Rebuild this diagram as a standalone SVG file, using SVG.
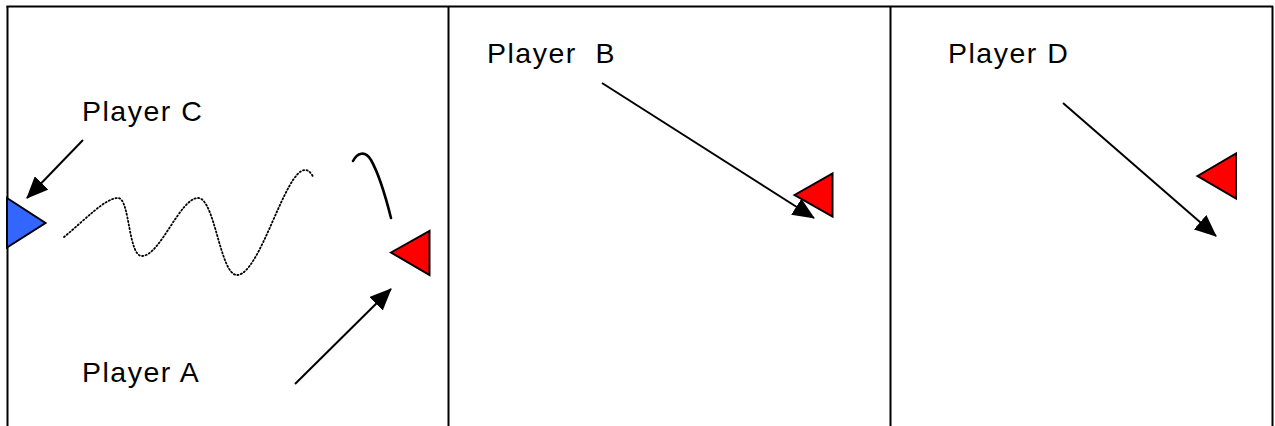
<svg xmlns="http://www.w3.org/2000/svg" width="1275" height="426" viewBox="0 0 1275 426">
<style>
.frame{stroke:#000;stroke-width:2;fill:none}
.lbl{font-family:"Liberation Sans",Arial,sans-serif;font-size:28.5px;fill:#000;letter-spacing:1.5px;white-space:pre}
.tri{stroke:#000;stroke-width:2;stroke-linejoin:miter}
.red{fill:#ff0000}
.blue{fill:#3366ff}
.arrow{stroke:#000;stroke-width:2;fill:none;marker-end:url(#ah)}
.dots{stroke:#000;stroke-width:1.8;fill:none;stroke-dasharray:1.2 2.4;stroke-linecap:round}
.curve{stroke:#000;stroke-width:2.6;fill:none;stroke-linecap:round}
</style>
<defs>
<marker id="ah" markerUnits="userSpaceOnUse" markerWidth="22" markerHeight="19" refX="21" refY="9.5" orient="auto">
<path d="M0,0 L22,9.5 L0,19 z" fill="#000"/>
</marker>
</defs>
<rect width="1275" height="426" fill="#fff"/>
<g id="frame">
<line class="frame" x1="6.5" y1="6.5" x2="1273" y2="6.5"/>
<line class="frame" x1="7.5" y1="6" x2="7.5" y2="426"/>
<line class="frame" x1="448.5" y1="6" x2="448.5" y2="426"/>
<line class="frame" x1="890.5" y1="6" x2="890.5" y2="426"/>
<line class="frame" x1="1272.5" y1="6" x2="1272.5" y2="426"/>
</g>
<g id="connectors">
<line class="arrow" x1="83" y1="140" x2="27" y2="198"/>
<line class="arrow" x1="295" y1="384" x2="391" y2="289"/>
<line class="arrow" x1="602" y1="83" x2="814" y2="218"/>
<line class="arrow" x1="1063" y1="103" x2="1216" y2="236"/>
<path class="dots" d="M64,237 C85,220 105,198 118,198 C130,198 128,256 142,256 C160,256 180,198 198,198 C215,198 220,275 237,275 C260,275 285,170 305,170 C309,170 312,174 313,177"/>
<path class="curve" d="M353,161 C357,153 365,150 371,160 C380,176 386,198 391,218"/>
</g>
<g id="playerC">
<polygon class="tri blue" points="7,198 45.5,223 7,247.5"/>
<text class="lbl" x="82" y="121">Player C</text>
</g>
<g id="playerA">
<polygon class="tri red" points="391,252.5 429.5,231 429.5,275"/>
<text class="lbl" x="82" y="382">Player A</text>
</g>
<g id="playerB">
<polygon class="tri red" points="794.5,195 832.5,173.5 832.5,216.5"/>
<text class="lbl" x="487" y="63">Player  B</text>
</g>
<g id="playerD">
<polygon class="tri red" points="1197.5,176 1236,153.5 1236,198.5"/>
<text class="lbl" x="948" y="63">Player D</text>
</g>
</svg>
